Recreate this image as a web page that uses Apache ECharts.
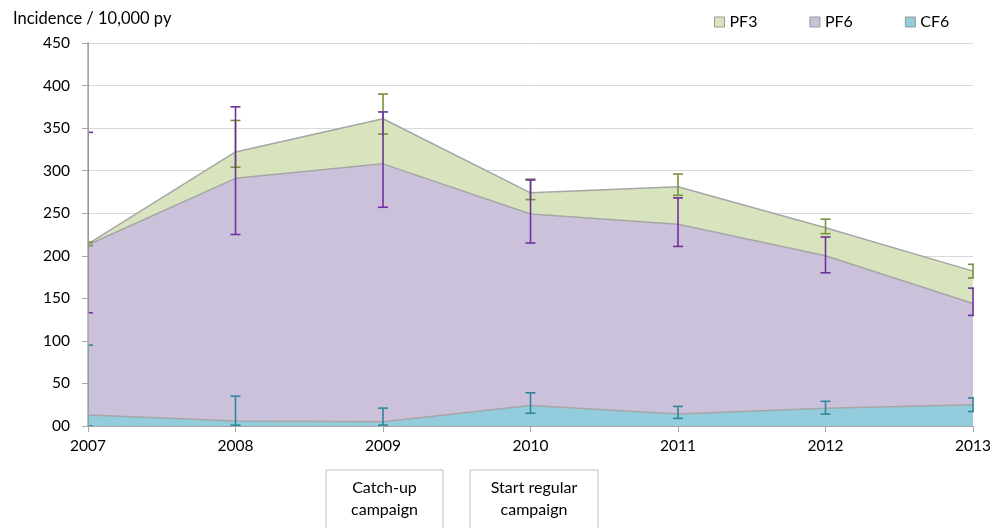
<!DOCTYPE html>
<html lang="en">
  <head>
    <meta charset="UTF-8" />
    <title>Incidence</title>
    <script src="https://cdn.jsdelivr.net/npm/echarts@6/dist/echarts.min.js"></script>
    <style>
      html, body { margin: 0; padding: 0; background: #fff; }
    </style>
  </head>
  <body>
    <div id="chart" style="width: 994px; height: 528px"></div>
  </body>
  <script>
    const years = ['2007', '2008', '2009', '2010', '2011', '2012', '2013']
    const yTicks = [0, 50, 100, 150, 200, 250, 300, 350, 400, 450]

    // area values (overlapping, not stacked)
    const pf3 = [214, 322, 361, 274, 281, 233, 182]
    const pf6 = [213, 291, 308, 249, 237, 200, 144]
    const cf6 = [13, 6, 5, 24, 14, 21, 25]

    // error bars: low / high
    const pf3Low = [212, 304, 343, 266, 271, 226, 174]
    const pf3High = [216, 359, 390, 290, 296, 243, 190]
    const pf6Low = [133, 225, 257, 215, 211, 180, 130]
    const pf6High = [345, 375, 369, 289, 268, 222, 162]
    const cf6Low = [0, 1, 1, 15, 9, 14, 17]
    const cf6High = [95, 35, 21, 39, 23, 29, 33]

    const font = 'Lato, "Open Sans", sans-serif'

    function areaSeries(name, data, fill, z) {
      return {
        name: name,
        type: 'line',
        data: data,
        showSymbol: false,
        symbol: 'none',
        z: z,
        lineStyle: { color: '#a6a6a6', width: 1.5 },
        itemStyle: { color: fill, borderColor: '#a6a6a6', borderWidth: 1 },
        areaStyle: { color: fill, opacity: 1 },
        emphasis: { disabled: true }
      }
    }

    function errorSeries(low, high, color) {
      return {
        type: 'custom',
        z: 10,
        clip: true,
        silent: true,
        data: low.map((l, i) => [i, l, high[i]]),
        renderItem: function (params, api) {
          const top = api.coord([api.value(0), api.value(2)])
          const bot = api.coord([api.value(0), api.value(1)])
          const w = 5
          const style = { stroke: color, lineWidth: 1.6 }
          return {
            type: 'group',
            children: [
              { type: 'line', shape: { x1: top[0], y1: top[1], x2: bot[0], y2: bot[1] }, style: style },
              { type: 'line', shape: { x1: top[0] - w, y1: top[1], x2: top[0] + w, y2: top[1] }, style: style },
              { type: 'line', shape: { x1: bot[0] - w, y1: bot[1], x2: bot[0] + w, y2: bot[1] }, style: style }
            ]
          }
        }
      }
    }

    const chart = echarts.init(document.getElementById('chart'))
    const option = {
      animation: false,
      backgroundColor: '#fff',
      textStyle: { fontFamily: font },
      title: {
        text: 'Incidence / 10,000 py',
        left: 8,
        top: 5,
        textStyle: { fontFamily: font, fontSize: 16.5, fontWeight: 'normal', color: '#000' }
      },
      legend: {
        data: ['PF3', 'PF6', 'CF6'],
        left: 709,
        top: 9,
        icon: 'rect',
        itemWidth: 10,
        itemHeight: 10,
        itemGap: 52,
        itemStyle: { borderColor: '#999', borderWidth: 1 },
        textStyle: { fontFamily: font, fontSize: 16, color: '#000' }
      },
      grid: { left: 88, right: 19, top: 43, bottom: 102, containLabel: false },
      xAxis: {
        type: 'category',
        data: years,
        boundaryGap: false,
        axisLine: { lineStyle: { color: '#a6a6a6', width: 1 } },
        axisTick: { show: true, length: 6, lineStyle: { color: '#a6a6a6' } },
        axisLabel: { color: '#000', fontSize: 15.5, margin: 12, fontFamily: font },
        splitLine: { show: false }
      },
      yAxis: [
        {
          type: 'value',
          min: yTicks[0],
          max: yTicks[yTicks.length - 1],
          interval: 50,
          axisLine: { show: true, lineStyle: { color: '#a6a6a6', width: 1 } },
          axisTick: { show: true, length: 6, lineStyle: { color: '#a6a6a6' } },
          axisLabel: {
            color: '#000',
            fontSize: 15.5,
            margin: 18,
            fontFamily: font,
            formatter: v => (v === 0 ? '00' : String(v))
          },
          splitLine: { show: true, lineStyle: { color: '#d9d9d9', width: 1 } }
        },
        {
          // overlay axis line drawn above the clipped error bars at 2007
          type: 'value',
          position: 'left',
          offset: 0,
          min: yTicks[0],
          max: yTicks[yTicks.length - 1],
          interval: 50,
          z: 30,
          axisLine: { show: true, lineStyle: { color: '#a6a6a6', width: 1.5 } },
          axisTick: { show: false },
          axisLabel: { show: false },
          splitLine: { show: false }
        }
      ],
      graphic: [
        {
          type: 'rect',
          x: 326,
          y: 470,
          shape: { width: 117, height: 70 },
          style: { fill: '#fff', stroke: '#bfbfbf', lineWidth: 1 }
        },
        {
          type: 'text',
          x: 384.5,
          y: 477,
          style: {
            text: 'Catch-up\ncampaign',
            align: 'center',
            fontFamily: font,
            fontSize: 16,
            lineHeight: 22,
            fill: '#000'
          }
        },
        {
          type: 'rect',
          x: 470,
          y: 470,
          shape: { width: 128, height: 70 },
          style: { fill: '#fff', stroke: '#bfbfbf', lineWidth: 1 }
        },
        {
          type: 'text',
          x: 534,
          y: 477,
          style: {
            text: 'Start regular\ncampaign',
            align: 'center',
            fontFamily: font,
            fontSize: 16,
            lineHeight: 22,
            fill: '#000'
          }
        }
      ],
      series: [
        areaSeries('PF3', pf3, '#d7e4bd', 2),
        areaSeries('PF6', pf6, '#ccc1da', 3),
        areaSeries('CF6', cf6, '#93cddd', 4),
        errorSeries(pf3Low, pf3High, '#77933c'),
        errorSeries(pf6Low, pf6High, '#7030a0'),
        errorSeries(cf6Low, cf6High, '#31859c')
      ]
    }
    chart.setOption(option)
  </script>
</html>
